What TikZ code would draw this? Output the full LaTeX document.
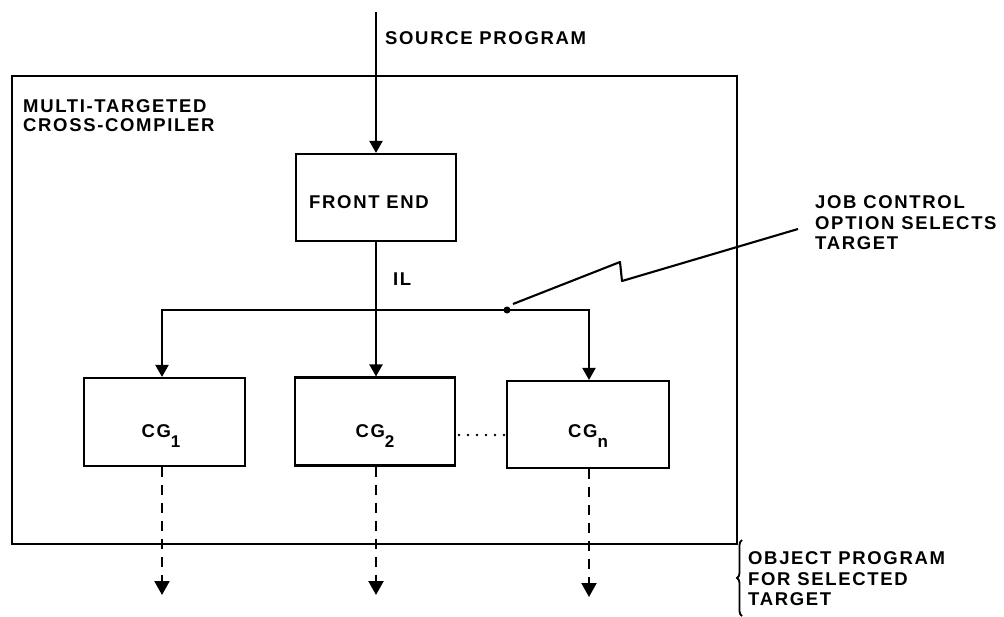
\documentclass[tikz,border=0pt]{standalone}
\usepackage{fontspec}
\setmainfont{Liberation Sans}[LetterSpace=9]
\usetikzlibrary{arrows.meta,decorations.pathreplacing}
\begin{document}
\begin{tikzpicture}[x=1pt,y=-1pt,
  lw/.style={line width=2.1pt, line join=round},
  box/.style={draw, line width=2.1pt, inner sep=0pt},
  lab/.style={font=\fontsize{18.5}{20.5}\selectfont\bfseries, inner sep=0pt},
  arr/.style={line width=2.1pt, -{Triangle[length=12pt,width=13pt]}},
  outarr/.style={line width=2.1pt, dash pattern=on 10pt off 8pt, -{Triangle[length=14pt,width=15pt]}}]
\useasboundingbox (0,0) rectangle (1004,616);
% outer frame
\node[box, minimum width=725pt, minimum height=468pt] (outer) at (374.5,310) {};
\node[lab, anchor=north west, align=left, font=\fontsize{18.5}{19}\selectfont\bfseries] (title) at (23,99) {MULTI-TARGETED\\CROSS-COMPILER};
% front end
\node[box, minimum width=160pt, minimum height=87pt] (fe) at (376,197.5) {};
\node[lab] (fet) at (369,202) {FRONT END};
% code generators
\node[box, minimum width=161pt, minimum height=88pt] (cg1) at (164.5,422) {};
\node[box, minimum width=160pt, minimum height=88pt] (cg2) at (375,421.5) {};
\node[box, minimum width=162pt, minimum height=87pt] (cgn) at (588,424.5) {};
\node[lab, anchor=base] (cg1t) at (161,437) {CG\raisebox{-10pt}{\fontsize{17}{17}\selectfont 1}};
\node[lab, anchor=base] (cg2t) at (375,437) {CG\raisebox{-10pt}{\fontsize{17}{17}\selectfont 2}};
\node[lab, anchor=base] (cgnt) at (588,437) {CG\raisebox{-10pt}{\fontsize{17}{17}\selectfont n}};
% source
\coordinate (src) at (376,12);
\draw[arr] (src) -- (fe.north);
\node[lab, anchor=west] (srct) at (385,38.5) {SOURCE PROGRAM};
% IL
\draw[arr] (fe.south) -- (fe.south |- cg2.north);
\node[lab, anchor=west] (il) at (393,279) {IL};
% branch
\coordinate (bl) at (162,310);
\coordinate (br) at (589,310);
\draw[arr, line join=miter] (br) -- (bl) -- (bl |- cg1.north);
\draw[arr, line join=miter] (bl) -- (br) -- (br |- cgn.north);
\node[circle, fill, inner sep=0pt, minimum size=7pt] (sel) at (507,310) {};
% job control
\coordinate (jc) at (798,229);
\draw[lw] (513,304) -- (620,262) -- (622,281) -- (jc);
\node[lab, anchor=north west, align=left] (jct) at (815,195.5) {JOB CONTROL\\OPTION SELECTS\\TARGET};
% dots between CG2 and CGn
\coordinate (d1) at (459,435);
\coordinate (d2) at (504,435);
\draw[line width=2.8pt, line cap=round, dash pattern=on 0pt off 9pt] (d1) -- (d2);
% outputs
\coordinate (o1) at (162,595);
\coordinate (o2) at (376,595);
\coordinate (o3) at (589,597);
\draw[outarr] (o1 |- cg1.south) -- (o1);
\draw[outarr] (o2 |- cg2.south) -- (o2);
\draw[outarr] (o3 |- cgn.south) -- (o3);
% brace and object program label
\draw[line width=1.8pt, decorate, decoration={brace, amplitude=5pt}] (742,616) -- (742,540);
\node[lab, anchor=north west, align=left] (obj) at (748,551.5) {OBJECT PROGRAM\\FOR SELECTED\\TARGET};
\end{tikzpicture}
\end{document}
